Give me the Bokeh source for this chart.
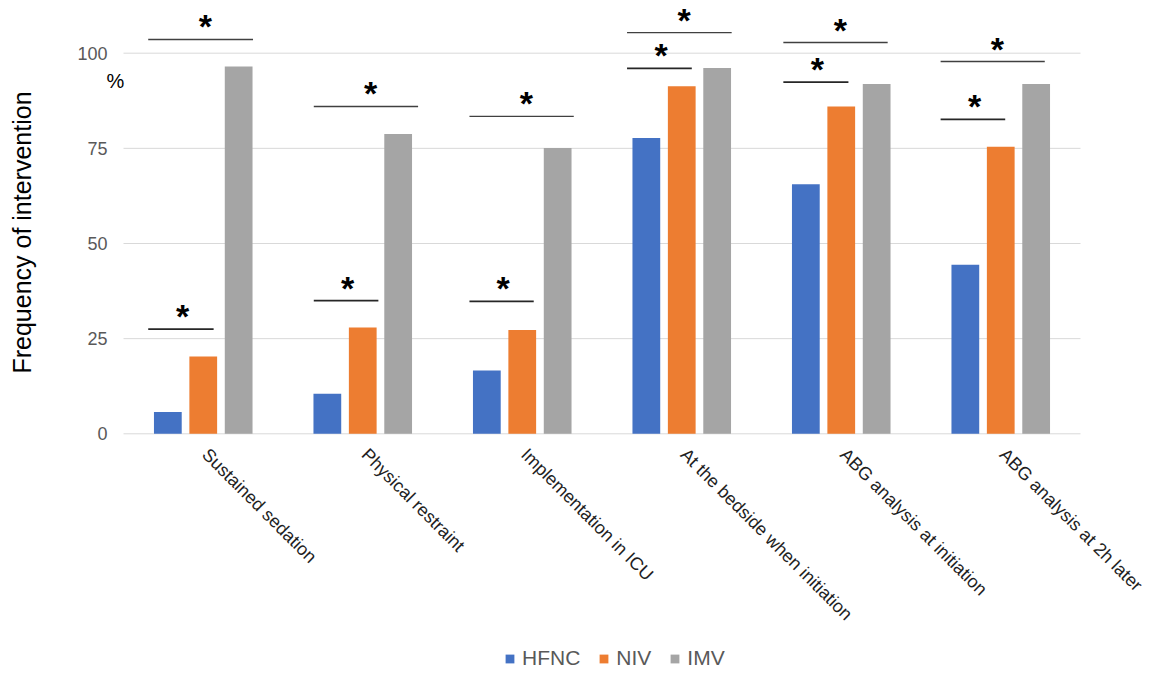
import numpy as np
from bokeh.plotting import figure
from bokeh.models import ColumnDataSource, Range1d, Legend, LegendItem
from bokeh.core.properties import value
from bokeh.transform import dodge
from bokeh.embed import file_html
from bokeh.resources import INLINE

# ---------------- data ----------------
categories = ["Sustained sedation", "Physical restraint", "Implementation in ICU",
              "At the bedside when initiation", "ABG analysis at initiation",
              "ABG analysis at 2h later"]
series_names = ["HFNC", "NIV", "IMV"]
hfnc = [5.7, 10.5, 16.6, 77.7, 65.6, 44.4]
niv = [20.3, 27.9, 27.3, 91.3, 86.0, 75.4]
imv = [96.5, 78.8, 75.1, 96.1, 91.9, 91.9]
y_ticks = [0, 25, 50, 75, 100]
y_tick_labels = ["0", "25", "50", "75", "100"]
y_title = "Frequency of intervention"
unit_label = "%"

# significance markers (bracket heights in %)
sig_hfnc_imv = [103.6, 86.0, 83.4, 105.4, 102.8, 97.8]
sig_hfnc_niv = [27.5, 35.0, 34.8, 96.0, 92.4, 82.6]

# ---------------- layout / style ----------------
bracket_left = [-0.345, -0.307, -0.331, -0.343, -0.363, -0.377]
bracket_right_long = [0.312, 0.347, 0.323, 0.313, 0.291, 0.276]
bracket_right_short = [0.065, 0.098, 0.072, 0.063, 0.045, 0.028]
colors = ["#4472C4", "#ED7D31", "#A5A5A5"]
FONT = "Liberation Sans"
BAR_W = 0.174
OFFS = [-0.222, 0.0, 0.222]
PX_X = 159.5      # pixels per category unit
PX_Y = 3.806      # pixels per percent
FRAME_L = 123.0   # x of the bar area's left edge (px)
ZERO_Y = 433.3    # y of 0 % (px, from top)
W, H = 1145, 672


def dx(px):  # pixel -> data x
    return (px - FRAME_L) / PX_X


def dy(px):  # pixel (from top) -> data y
    return (ZERO_Y - px) / PX_Y


centers = np.arange(len(categories)) + 0.5
src = ColumnDataSource(dict(x=centers, HFNC=hfnc, NIV=niv, IMV=imv))

p = figure(width=W, height=H,
           x_range=Range1d(dx(0), dx(W)), y_range=Range1d(dy(H), dy(0)),
           x_axis_type=None, y_axis_type=None,
           output_backend="svg", toolbar_location=None,
           min_border=0, min_border_left=0, min_border_right=0,
           min_border_top=0, min_border_bottom=0)
p.outline_line_color = None
p.background_fill_color = "white"
p.border_fill_color = "white"

# gridlines
p.segment(x0=[0] * len(y_ticks), x1=[6] * len(y_ticks), y0=y_ticks, y1=y_ticks,
          line_color="#d9d9d9", line_width=1)

renderers = []
for name, off, col in zip(series_names, OFFS, colors):
    r = p.vbar(x=dodge("x", off, range=p.x_range), top=name, width=BAR_W,
               bottom=0, source=src, fill_color=col, line_color=None)
    renderers.append(r)

# y tick labels
p.text(x=[dx(107)] * len(y_ticks), y=y_ticks, text=y_tick_labels,
       text_align="right", text_baseline="middle", text_font=value(FONT),
       text_font_size="18px", text_color="#595959")
# unit label
p.text(x=[dx(115)], y=[dy(80)], text=[unit_label], text_align="center",
       text_baseline="middle", text_font=value(FONT), text_font_size="20px",
       text_color="#000000")
# y title
p.text(x=[dx(21)], y=[dy(232)], text=[y_title], angle=np.pi / 2,
       text_align="center", text_baseline="middle", text_font=value(FONT),
       text_font_size="25px", text_color="#000000")

# category labels
p.text(x=list(centers), y=[dy(444)] * len(categories), text=categories,
       angle=-np.pi / 4, text_align="left", text_baseline="top", x_offset=9,
       text_font=value(FONT), text_font_size="18px", text_color="#1f1f1f")

# significance brackets
x0_long = [c + l for c, l in zip(centers, bracket_left)]
x1_long = [c + r for c, r in zip(centers, bracket_right_long)]
x1_short = [c + r for c, r in zip(centers, bracket_right_short)]
p.segment(x0=x0_long, x1=x1_long, y0=sig_hfnc_imv, y1=sig_hfnc_imv,
          line_color="#404040", line_width=1.4)
p.segment(x0=x0_long, x1=x1_short, y0=sig_hfnc_niv, y1=sig_hfnc_niv,
          line_color="#262626", line_width=1.6)
star_x_long = [(a + b) / 2 + 0.03 for a, b in zip(x0_long, x1_long)]
star_x_short = [(a + b) / 2 + 0.01 for a, b in zip(x0_long, x1_short)]
p.text(x=star_x_long + star_x_short, y=sig_hfnc_imv + sig_hfnc_niv,
       text=["*"] * (2 * len(categories)), text_align="center",
       text_baseline="top", text_font_size="34px", text_font_style="bold",
       text_font=value(FONT), text_color="#000000", y_offset=-32)

legend = Legend(items=[LegendItem(label=n, renderers=[r]) for n, r in zip(series_names, renderers)],
                orientation="horizontal", location=(504, 2),
                label_text_font=FONT, label_text_font_size="21px",
                label_text_color="#595959", glyph_width=11, glyph_height=11,
                spacing=18, label_standoff=7, border_line_color=None,
                background_fill_alpha=0, padding=0, margin=0)
p.add_layout(legend, "center")

open("out.html", "w").write(file_html(p, INLINE))
